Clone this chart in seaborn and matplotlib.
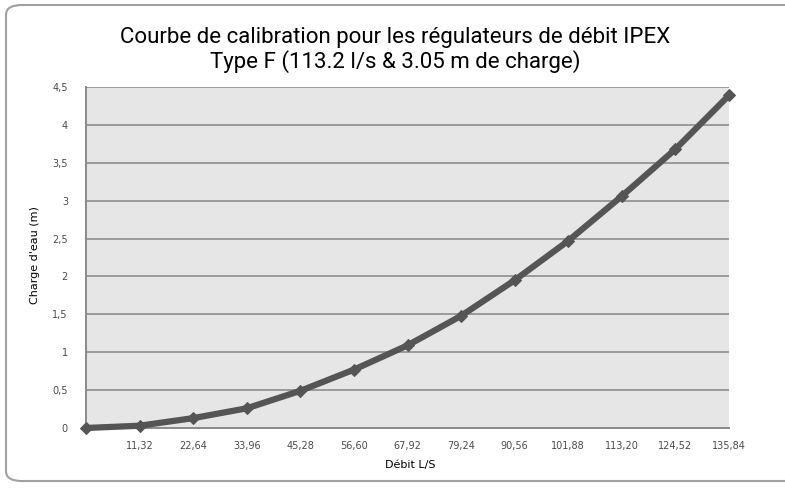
import numpy as np
import pandas as pd
import matplotlib
matplotlib.use("Agg")
import matplotlib.pyplot as plt
from matplotlib.patches import FancyBboxPatch
import seaborn as sns

debit = [0, 11.32, 22.64, 33.96, 45.28, 56.60, 67.92, 79.24, 90.56, 101.88, 113.20, 124.52, 135.84]
charge = [0, 0.03, 0.13, 0.26, 0.49, 0.77, 1.09, 1.48, 1.95, 2.47, 3.06, 3.68, 4.39]
xtick_labels = ["", "11,32", "22,64", "33,96", "45,28", "56,60", "67,92", "79,24",
                "90,56", "101,88", "113,20", "124,52", "135,84"]
yticks = [0, 0.5, 1, 1.5, 2, 2.5, 3, 3.5, 4, 4.5]
ytick_labels = ["0", "0,5", "1", "1,5", "2", "2,5", "3", "3,5", "4", "4,5"]

df = pd.DataFrame({"debit": debit, "charge": charge})

sns.set_style("white")
plt.rcParams["font.family"] = ["DejaVu Sans"]

fig = plt.figure(figsize=(7.85, 4.93), dpi=100)
ax = fig.add_axes([86 / 785, 1 - 428 / 493, (729 - 86) / 785, (428 - 87) / 493])
ax.set_facecolor("#e6e6e6")

# rounded frame around the chart
frame = FancyBboxPatch((6 / 785, 12 / 493), 800 / 785, 476 / 493,
                       boxstyle="round,pad=0,rounding_size=0.02",
                       transform=fig.transFigure, fill=False,
                       edgecolor="#a0a0a0", linewidth=1.5, clip_on=False)
fig.patches.append(frame)

for y in yticks[1:]:
    ax.axhline(y, color="#9a9a9a", linewidth=1.4, zorder=1)

sns.lineplot(data=df, x="debit", y="charge", ax=ax, color="#555555",
             linewidth=4.5, marker="D", markersize=6.5, markeredgecolor="#555555",
             zorder=3, clip_on=False)

ax.set_xlim(0, 135.84)
ax.set_ylim(0, 4.5)
ax.set_xticks(debit)
ax.set_xticklabels(xtick_labels)
ax.set_yticks(yticks)
ax.set_yticklabels(ytick_labels)
ax.tick_params(axis="x", direction="inout", length=7, width=1.2, color="#8a8a8a",
               labelsize=7, labelcolor="#4a4a4a", pad=6)
ax.tick_params(axis="y", direction="out", length=5, width=1.2, color="#8a8a8a",
               labelsize=7, labelcolor="#4a4a4a", pad=8)

for side in ["top", "right"]:
    ax.spines[side].set_visible(False)
for side in ["left", "bottom"]:
    ax.spines[side].set_color("#8a8a8a")
    ax.spines[side].set_linewidth(1.4)

ax.set_xlabel("")
ax.set_ylabel("")
fig.text(35 / 785, 1 - 255 / 493, "Charge d'eau (m)", rotation=90, ha="center",
         va="center", fontsize=8, color="black")
fig.text(410 / 785, 1 - 465 / 493, "Débit L/S", ha="center", va="center",
         fontsize=8, color="black")

fig.text(395 / 785, 1 - 38 / 493, "Courbe de calibration pour les régulateurs de débit IPEX",
         ha="center", va="center", fontsize=16, color="black",
         family=["Roboto", "DejaVu Sans"])
fig.text(395 / 785, 1 - 62 / 493, "Type F (113.2 l/s & 3.05 m de charge)",
         ha="center", va="center", fontsize=16, color="black",
         family=["Roboto", "DejaVu Sans"])

fig.savefig("out.png", dpi=100)
